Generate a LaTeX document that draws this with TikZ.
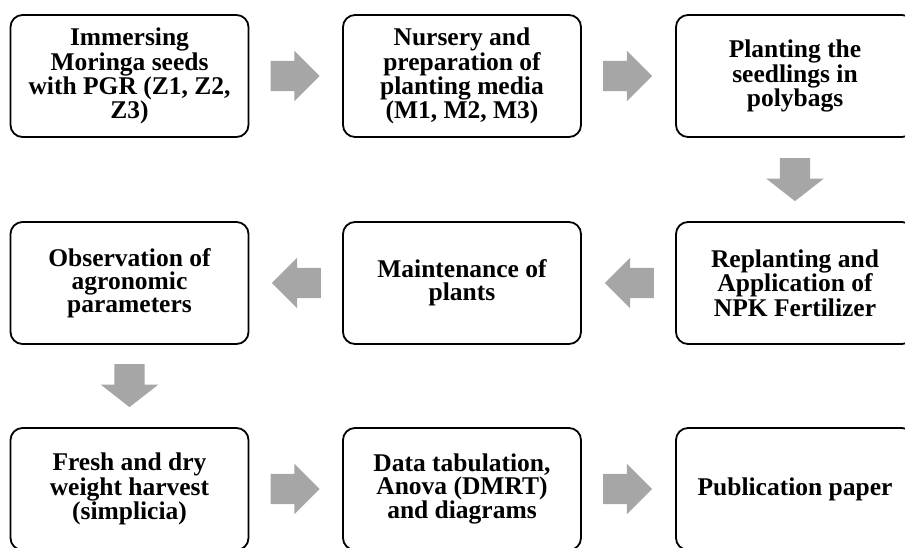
\documentclass[tikz,border=0pt]{standalone}
\usepackage{fontspec}
\setmainfont{Liberation Serif}
\usetikzlibrary{shapes.arrows,calc}
\definecolor{arrowgray}{RGB}{166,166,166}
\tikzset{
  stepbox/.style={draw=black, line width=1.8pt, rounded corners=12pt, fill=white,
    minimum width=238pt, minimum height=122pt, inner sep=0pt, align=center,
    font=\fontsize{25.5}{23}\selectfont\bfseries},
  blockarrow/.style={single arrow, fill=arrowgray, draw=none, inner sep=0pt,
    single arrow head extend=10pt, single arrow tip angle=90, minimum height=49pt, anchor=tail},
  downarrow/.style={blockarrow, rotate=-90, single arrow head extend=13.5pt, single arrow tip angle=104, minimum height=43pt},
  leftarrow/.style={blockarrow, rotate=180}
}
\newcommand{\shaft}{\rule{0pt}{30pt}}
\begin{document}
\begin{tikzpicture}[x=1pt,y=-1pt]
\useasboundingbox (0,0) rectangle (905,547);
\clip (0,0) rectangle (905,547);
% row 1
\node[stepbox] (a) at (129.5,76) {Immersing\\Moringa seeds\\with PGR (Z1, Z2,\\Z3)};
\node[stepbox] (b) at (462,76) {Nursery and\\preparation of\\planting media\\(M1, M2, M3)};
\node[stepbox] (c) at (795,76) {Planting the\\seedlings in\\polybags};
% row 2
\node[stepbox] (f) at (129.5,283) {Observation of\\agronomic\\parameters};
\node[stepbox] (e) at (462,283) {Maintenance of\\plants};
\node[stepbox] (d) at (795,283) {Replanting and\\Application of\\NPK Fertilizer};
% row 3
\node[stepbox] (g) at (129.5,489) {Fresh and dry\\weight harvest\\(simplicia)};
\node[stepbox] (h) at (462,489) {Data tabulation,\\Anova (DMRT)\\and diagrams};
\node[stepbox] (i) at (795,489) {Publication paper};
% arrows
\node[blockarrow] (ab) at ($(a.east)+(21,0)$) {\shaft};
\node[blockarrow] (bc) at ($(b.east)+(21,0)$) {\shaft};
\node[downarrow] (cd) at ($(c.south)+(0,20)$) {\shaft};
\node[leftarrow] (de) at ($(d.west)+(-21,0)$) {\shaft};
\node[leftarrow] (ef) at ($(e.west)+(-21,0)$) {\shaft};
\node[downarrow] (fg) at ($(f.south)+(0,19)$) {\shaft};
\node[blockarrow] (gh) at ($(g.east)+(21,0)$) {\shaft};
\node[blockarrow] (hi) at ($(h.east)+(21,0)$) {\shaft};
\end{tikzpicture}
\end{document}
